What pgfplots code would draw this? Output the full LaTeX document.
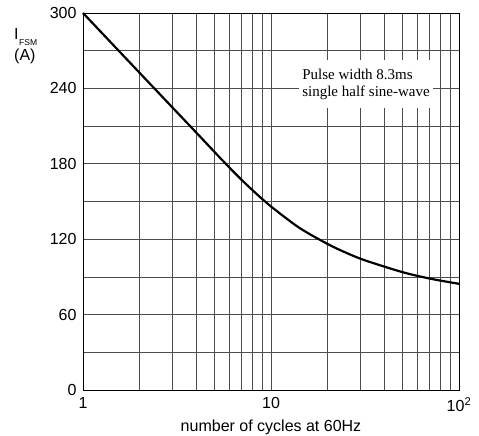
\documentclass[border=0pt]{standalone}
\usepackage{pgfplots}
\pgfplotsset{compat=1.18}
\usepackage{fontspec}
\setmainfont{Liberation Sans}
\newfontfamily\boxfont{Liberation Serif}

\begin{document}
\begin{tikzpicture}[x=1pt,y=1pt]
\path[use as bounding box] (-83,-46) rectangle (396,390);
\begin{axis}[
    at={(0,0)}, anchor=south west,
    scale only axis,
    width=376pt, height=377pt,
    xmode=log,
    xmin=1, xmax=100,
    ymin=0, ymax=300,
    xtick={1,10,100},
    xticklabels={1,10,10\textsuperscript{2}},
    ytick={0,60,...,300},
    minor ytick={30,90,...,270},
    grid=both,
    major grid style={black!70, line width=0.8pt},
    minor grid style={black!70, line width=0.8pt},
    major tick length=0pt, minor tick length=0pt,
    axis line style={black, line width=0.8pt},
    tick label style={font=\fontsize{16}{16}\selectfont},
    xticklabel style={yshift=-4pt},
    yticklabel style={xshift=-3pt},
    /pgf/number format/assume math mode=true,
    xlabel={number of cycles at 60Hz},
    xlabel style={font=\fontsize{16}{16}\selectfont, yshift=-1pt},
    clip=false,
]
% surge current vs number of cycles
\addplot[black, line width=2.2pt, smooth] coordinates {
    (1, 300)
    (2, 252.4)
    (3, 224.6)
    (4, 204.9)
    (5.62, 181.5)
    (7.08, 166.3)
    (8.91, 152.4)
    (10, 146)
    (14.1, 129.2)
    (20, 116.2)
    (25.1, 109.2)
    (31.6, 103.2)
    (50, 93.8)
    (70.8, 88.5)
    (100, 84.5)
};
\end{axis}
\node[fill=white, minimum width=132pt, minimum height=48pt, align=left,
      font=\boxfont\fontsize{15}{17}\selectfont] at (283,306)
    {Pulse width 8.3ms\\single half sine-wave};
\node[anchor=base west, font=\fontsize{16}{16}\selectfont, inner sep=0pt] at (-69,350) {I};
\node[anchor=base west, font=\fontsize{8.5}{8.5}\selectfont, inner sep=0pt] at (-64,344) {FSM};
\node[anchor=base west, font=\fontsize{16}{16}\selectfont, inner sep=0pt] at (-69,329) {(A)};
\end{tikzpicture}
\end{document}
